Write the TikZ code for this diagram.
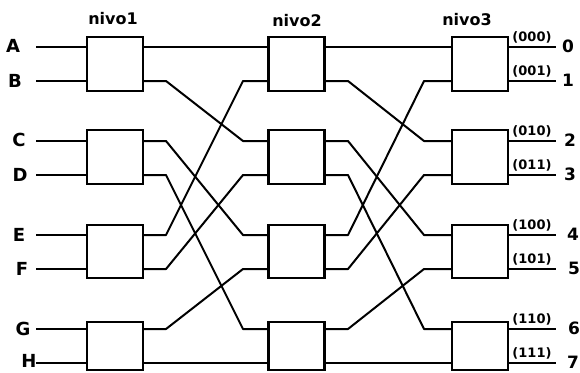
\documentclass[tikz,border=0pt]{standalone}
\usepackage{fontspec}
\setmainfont{DejaVu Sans}
\usetikzlibrary{calc}
\begin{document}
\begin{tikzpicture}[x=1pt,y=-1pt,
  wire/.style={line width=2pt,line join=round},
  sw/.style={draw,line width=2.3pt,minimum width=56pt,inner sep=0pt,fill=white},
  inlab/.style={font=\fontsize{18}{18}\selectfont\bfseries,inner sep=0pt},
  outlab/.style={font=\fontsize{17}{17}\selectfont\bfseries,inner sep=0pt},
  codelab/.style={font=\fontsize{13}{13}\selectfont\bfseries,inner sep=0pt,anchor=south},
  lvl/.style={font=\fontsize{16}{16}\selectfont\bfseries,inner sep=0pt}]
\useasboundingbox (0,0) rectangle (580,372);
% bend columns
\coordinate (s1) at (166,0);
\coordinate (s2) at (243,0);
\coordinate (s3) at (348,0);
\coordinate (s4) at (424,0);
% ports
\foreach \y [count=\i from 0] in {47,81,141,175,235,269,329,363}{
  \coordinate (x\i) at (36,\y);
  \coordinate (in\i) at (87,\y);
  \coordinate (a\i) at (143,\y);
  \coordinate (b\i) at (270,\y);
  \coordinate (c\i) at (323,\y);
  \coordinate (d\i) at (452,\y);
  \coordinate (e\i) at (508,\y);
  \coordinate (z\i) at (556,\y);
}
% wires
\foreach \i in {0,...,7}{
  \draw[wire] (x\i) -- (in\i);
  \draw[wire] (e\i) -- (z\i);
}
\foreach \p/\q in {0/0,1/2,2/4,3/6,4/1,5/3,6/5,7/7}{
  \draw[wire] (a\p) -- (a\p -| s1) -- (b\q -| s2) -- (b\q);
  \draw[wire] (c\p) -- (c\p -| s3) -- (d\q -| s4) -- (d\q);
}
% switches
\foreach \c/\x in {1/115,2/296.5,3/480}{
  \node[sw,minimum height=54pt] (n\c r1) at (\x,64) {};
  \node[sw,minimum height=54pt] (n\c r2) at (\x,157) {};
  \node[sw,minimum height=53pt] (n\c r3) at (\x,251.5) {};
  \node[sw,minimum height=48pt] (n\c r4) at (\x,346) {};
}
% level labels
\node[lvl] (l1) at (113,19) {nivo1};
\node[lvl] (l2) at (297,21) {nivo2};
\node[lvl] (l3) at (467,20) {nivo3};
% input labels
\node[inlab] (tA) at (13,46) {A};
\node[inlab] (tB) at (15,81) {B};
\node[inlab] (tC) at (19,140) {C};
\node[inlab] (tD) at (20,175) {D};
\node[inlab] (tE) at (19,235) {E};
\node[inlab] (tF) at (22,269) {F};
\node[inlab] (tG) at (23,329) {G};
\node[inlab] (tH) at (29,361) {H};
% output codes
\foreach \t [count=\i from 0] in {000,001,010,011,100,101,110,111}{
  \node[codelab] (k\i) at ($(e\i)+(24,-4)$) {(\t)};
}
% output numbers
\foreach \i/\dx in {0/60,1/60,2/62,3/62,4/65,5/66,6/66,7/65}{
  \node[outlab] (o\i) at ($(e\i)+(\dx,-1)$) {\i};
}
\end{tikzpicture}
\end{document}
